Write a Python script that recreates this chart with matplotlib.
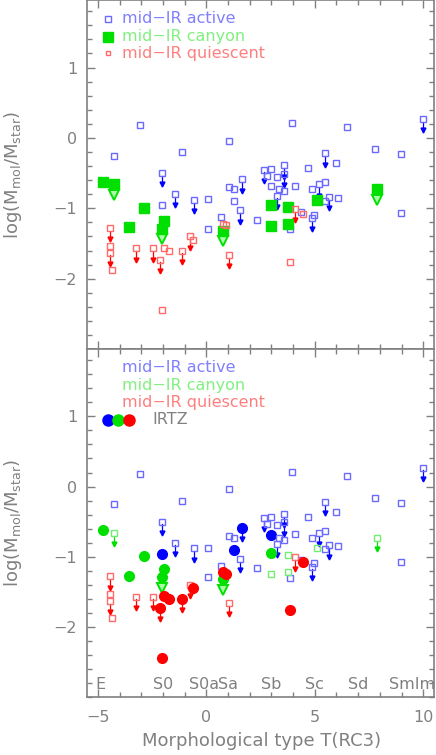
import numpy as np
import matplotlib
matplotlib.use("Agg")
import matplotlib.pyplot as plt
from matplotlib.ticker import MultipleLocator, FixedLocator

# mid-IR active galaxies: T, log(Mmol/Mstar), upper limit, IRTZ
act_t = [-4.24, -3.04, -1.13, 1.06, -2.04, -1.44, -0.55, 0.06, 1.06, 1.28,
         1.66, 1.28, -2.04, 1.57, 0.68, 2.34, 0.06, 3.97, 6.48, 9.99,
         7.79, 8.99, 5.49, 5.98, 4.69, 2.66, 2.97, 3.58, 2.78, 3.27,
         3.58, 2.97, 3.37, 3.58, 3.27, 4.07, 4.87, 5.49, 5.18, 5.67,
         6.08, 5.49, 4.38, 4.98, 4.88, 8.99, 3.87]
act_y = [-0.25, 0.18, -0.20, -0.04, -0.50, -0.80, -0.88, -0.87, -0.70, -0.73,
         -0.59, -0.90, -0.96, -1.03, -1.13, -1.16, -1.29, 0.21, 0.15, 0.27,
         -0.16, -0.23, -0.22, -0.36, -0.43, -0.45, -0.44, -0.39, -0.54, -0.55,
         -0.51, -0.69, -0.73, -0.76, -0.82, -0.68, -0.73, -0.63, -0.66, -0.84,
         -0.85, -0.89, -1.05, -1.09, -1.14, -1.07, -1.30]
act_lim = [0, 0, 0, 0, 1, 1, 1, 0, 0, 0,
           1, 0, 0, 1, 0, 0, 0, 0, 0, 1,
           0, 0, 1, 0, 0, 1, 0, 1, 0, 0,
           1, 0, 0, 0, 1, 0, 0, 0, 1, 1,
           0, 0, 0, 0, 1, 0, 0]
act_irtz = [0, 0, 0, 0, 0, 0, 0, 0, 0, 0,
            1, 1, 1, 0, 0, 0, 0, 0, 0, 0,
            0, 0, 0, 0, 0, 0, 0, 0, 0, 0,
            0, 1, 0, 0, 0, 0, 0, 0, 0, 0,
            0, 0, 0, 0, 0, 0, 0]

# mid-IR canyon
can_t = [-4.75, -4.24, -2.85, -3.55, -1.93, -2.04, 0.75, 2.97, 3.78, 5.09, 2.97, 3.78, 7.88]
can_y = [-0.62, -0.66, -0.99, -1.27, -1.18, -1.29, -1.32, -0.95, -0.98, -0.88, -1.25, -1.22, -0.73]
can_lim = [0, 1, 0, 0, 0, 1, 1, 0, 0, 0, 0, 0, 1]
can_irtz = [1, 0, 1, 1, 1, 1, 1, 1, 0, 0, 0, 0, 0]

# mid-IR quiescent
qui_t = [-4.43, -4.43, -4.43, -4.34, -3.24, -2.44, -1.93, -1.73, -2.13, -1.13,
         -0.74, -0.63, 1.06, -2.04, 0.78, 0.91, 4.07, 4.47, 3.87]
qui_y = [-1.28, -1.53, -1.63, -1.87, -1.57, -1.57, -1.56, -1.60, -1.73, -1.60,
         -1.40, -1.45, -1.66, -2.44, -1.22, -1.24, -1.01, -1.08, -1.76]
qui_lim = [1, 0, 1, 0, 1, 1, 0, 0, 1, 1,
           1, 0, 1, 0, 0, 0, 1, 0, 0]
qui_irtz = [0, 0, 0, 0, 0, 0, 1, 1, 1, 1,
            0, 1, 0, 1, 1, 1, 0, 1, 1]

type_names = ["E", "S0", "S0a", "Sa", "Sb", "Sc", "Sd", "SmIm"]
type_pos = [-4.9, -2.0, -0.1, 1.0, 3.0, 5.0, 7.0, 9.5]

GREY = "#808080"
BLUE = "#0000ff"
BLUE_L = "#6a6aff"
GREEN = "#00e000"
GREEN_L = "#70ee70"
RED = "#ff0000"
RED_L = "#ff6a6a"

fig = plt.figure(figsize=(4.36, 7.55), dpi=100)
ax1 = fig.add_axes([0.1995, 0.5377, 0.796, 0.4623])
ax2 = fig.add_axes([0.1995, 0.0768, 0.796, 0.4609])

ARR = 0.18


def arrow(ax, x, y, c, big=False):
    ax.plot([x, x], [y - 0.04, y - ARR], color=c, lw=0.9, zorder=2)
    if big:
        ax.plot(x, y - ARR + 0.03, marker="v", ms=7, mfc="#a8ffa8", mec=c, mew=1.4, zorder=2)
    else:
        ax.plot(x, y - ARR + 0.02, marker="v", ms=3.5, color=c, zorder=2)


def panel(ax, bottom):
    # active
    for x, y, l, r in zip(act_t, act_y, act_lim, act_irtz):
        if bottom and r:
            ax.plot(x, y, "o", ms=7, color=BLUE, zorder=3)
        else:
            ax.plot(x, y, "s", ms=4.5, mfc="none", mec=BLUE_L, mew=1.0, zorder=3)
        if l:
            arrow(ax, x, y, BLUE)
    # canyon
    for x, y, l, r in zip(can_t, can_y, can_lim, can_irtz):
        if bottom:
            if r:
                ax.plot(x, y, "o", ms=7, color=GREEN, zorder=3)
            else:
                ax.plot(x, y, "s", ms=4.5, mfc="none", mec=GREEN_L, mew=1.0, zorder=3)
            if l:
                arrow(ax, x, y, GREEN, big=bool(r))
        else:
            ax.plot(x, y, "s", ms=6.5, color=GREEN, zorder=3)
            if l:
                arrow(ax, x, y, GREEN, big=True)
    # quiescent
    for x, y, l, r in zip(qui_t, qui_y, qui_lim, qui_irtz):
        if bottom and r:
            ax.plot(x, y, "o", ms=7, color=RED, zorder=3)
        else:
            ax.plot(x, y, "s", ms=4.5, mfc="none", mec=RED_L, mew=1.0, zorder=3)
        if l:
            arrow(ax, x, y, RED)

    ax.set_xlim(-5.5, 10.5)
    ax.set_ylim(-3, 1.96)
    ax.xaxis.set_major_locator(MultipleLocator(5))
    ax.xaxis.set_minor_locator(MultipleLocator(1))
    ax.yaxis.set_major_locator(FixedLocator([-2, -1, 0, 1]))
    ax.yaxis.set_minor_locator(MultipleLocator(0.2))
    ax.tick_params(which="both", direction="in", top=True, right=True,
                   color=GREY, labelcolor=GREY, labelsize=11.5, width=1.0)
    ax.tick_params(which="major", length=6)
    ax.tick_params(which="minor", length=3.5)
    ax.tick_params(axis="x", pad=9)
    ax.tick_params(axis="y", pad=7)
    for s in ax.spines.values():
        s.set_color(GREY)
        s.set_linewidth(1.2)


panel(ax1, False)
panel(ax2, True)
ax1.set_xticklabels([])

# legends
ax1.plot(-4.55, 1.69, "s", ms=4.5, mfc="none", mec=BLUE_L, mew=1.0)
ax1.plot(-4.55, 1.44, "s", ms=6.5, color=GREEN)
ax1.plot(-4.55, 1.20, "s", ms=3.5, mfc="none", mec=RED_L, mew=1.0)
for ax in (ax1, ax2):
    ax.text(-3.87, 1.69, "mid\u2212IR active", color="#7f7fff", fontsize=11.5, va="center")
    ax.text(-3.87, 1.44, "mid\u2212IR canyon", color="#80f080", fontsize=11.5, va="center")
    ax.text(-3.87, 1.20, "mid\u2212IR quiescent", color="#ff7f7f", fontsize=11.5, va="center")
ax2.plot(-4.55, 0.95, "o", ms=8, color=BLUE)
ax2.plot(-4.05, 0.95, "o", ms=8, color=GREEN)
ax2.plot(-3.55, 0.95, "o", ms=8, color=RED)
ax2.text(-2.5, 0.95, "IRTZ", color=GREY, fontsize=11.5, va="center")

for name, p in zip(type_names, type_pos):
    ax2.text(p, -2.82, name, color=GREY, fontsize=11.5, ha="center", va="center")

ylab = r"log(M$_{\mathrm{mol}}$/M$_{\mathrm{star}}$)"
fig.text(0.03, 0.769, ylab, rotation=90, color=GREY, fontsize=13, ha="center", va="center")
fig.text(0.03, 0.307, ylab, rotation=90, color=GREY, fontsize=13, ha="center", va="center")
fig.text(0.6, 0.018, "Morphological type T(RC3)", color=GREY, fontsize=13, ha="center", va="center")

fig.savefig("out.png", dpi=100)
